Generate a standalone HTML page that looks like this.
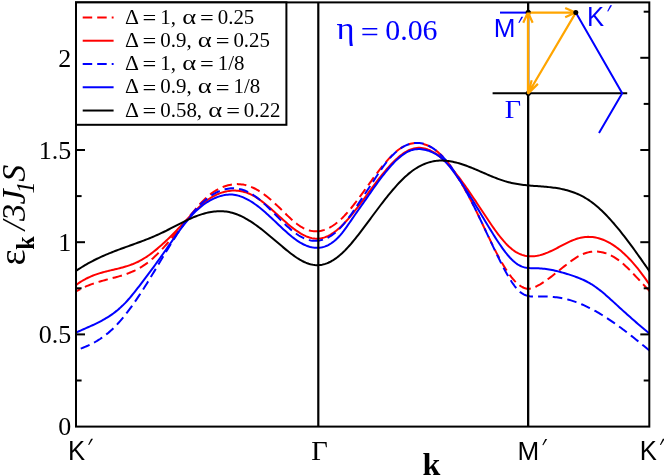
<!DOCTYPE html>
<html><head><meta charset="utf-8"><title>plot</title>
<style>
html,body{margin:0;padding:0;background:#fff;}
svg{display:block;will-change:transform;}
text{font-family:"Liberation Serif",serif;}
.sans{font-family:"Liberation Sans",sans-serif;}
</style></head><body>
<svg width="664" height="476" viewBox="0 0 664 476">
<rect x="0" y="0" width="664" height="476" fill="#fff"/>
<defs><clipPath id="cp"><rect x="76.00" y="2.40" width="573.30" height="424.20"/></clipPath></defs>
<g clip-path="url(#cp)" fill="none" stroke-width="2" stroke-linejoin="round">
<path d="M76.00 291.46 L77.51 290.60 L79.01 289.77 L80.52 288.98 L82.02 288.23 L83.53 287.52 L85.03 286.83 L86.54 286.19 L88.04 285.57 L89.55 284.97 L91.06 284.41 L92.56 283.87 L94.07 283.35 L95.57 282.85 L97.08 282.37 L98.58 281.91 L100.09 281.47 L101.60 281.03 L103.10 280.61 L104.61 280.20 L106.11 279.80 L107.62 279.40 L109.12 279.00 L110.63 278.61 L112.13 278.22 L113.64 277.82 L115.15 277.42 L116.65 277.01 L118.16 276.59 L119.66 276.15 L121.17 275.70 L122.67 275.24 L124.18 274.75 L125.68 274.24 L127.19 273.70 L128.70 273.14 L130.20 272.55 L131.71 271.92 L133.21 271.26 L134.72 270.56 L136.22 269.82 L137.73 269.04 L139.23 268.22 L140.74 267.34 L142.25 266.42 L143.75 265.44 L145.26 264.41 L146.76 263.33 L148.27 262.18 L149.77 260.97 L151.28 259.71 L152.79 258.38 L154.29 257.00 L155.80 255.58 L157.30 254.10 L158.81 252.59 L160.31 251.03 L161.82 249.44 L163.32 247.82 L164.83 246.17 L166.34 244.48 L167.84 242.77 L169.35 241.04 L170.85 239.28 L172.36 237.50 L173.86 235.71 L175.37 233.89 L176.87 232.07 L178.38 230.23 L179.89 228.38 L181.39 226.52 L182.90 224.66 L184.40 222.79 L185.91 220.92 L187.41 219.05 L188.92 217.19 L190.42 215.33 L191.93 213.48 L193.44 211.66 L194.94 209.86 L196.45 208.09 L197.95 206.36 L199.46 204.67 L200.96 203.03 L202.47 201.44 L203.98 199.92 L205.48 198.46 L206.99 197.08 L208.49 195.77 L210.00 194.55 L211.50 193.40 L213.01 192.33 L214.51 191.33 L216.02 190.40 L217.53 189.54 L219.03 188.75 L220.54 188.02 L222.04 187.35 L223.55 186.75 L225.05 186.20 L226.56 185.72 L228.06 185.30 L229.57 184.94 L231.08 184.65 L232.58 184.42 L234.09 184.25 L235.59 184.15 L237.10 184.11 L238.60 184.14 L240.11 184.23 L241.61 184.38 L243.12 184.60 L244.63 184.89 L246.13 185.24 L247.64 185.66 L249.14 186.14 L250.65 186.69 L252.15 187.31 L253.66 187.99 L255.17 188.74 L256.67 189.56 L258.18 190.43 L259.68 191.36 L261.19 192.34 L262.69 193.38 L264.20 194.47 L265.70 195.61 L267.21 196.79 L268.72 198.01 L270.22 199.28 L271.73 200.58 L273.23 201.91 L274.74 203.28 L276.24 204.68 L277.75 206.11 L279.25 207.56 L280.76 209.02 L282.27 210.50 L283.77 211.98 L285.28 213.46 L286.78 214.92 L288.29 216.36 L289.79 217.78 L291.30 219.16 L292.80 220.50 L294.31 221.79 L295.82 223.02 L297.32 224.19 L298.83 225.28 L300.33 226.30 L301.84 227.23 L303.34 228.06 L304.85 228.80 L306.36 229.44 L307.86 229.99 L309.37 230.44 L310.87 230.80 L312.38 231.06 L313.88 231.23 L315.39 231.31 L316.89 231.29 L318.40 231.19" stroke="#f00" stroke-dasharray="9.600 4.983" stroke-dashoffset="4.60"/>
<path d="M528.20 288.79 L526.69 288.65 L525.18 288.31 L523.67 287.76 L522.16 287.02 L520.65 286.10 L519.14 285.02 L517.63 283.77 L516.13 282.37 L514.62 280.83 L513.11 279.14 L511.60 277.31 L510.09 275.36 L508.58 273.27 L507.07 271.08 L505.56 268.76 L504.05 266.35 L502.54 263.83 L501.03 261.21 L499.52 258.51 L498.01 255.72 L496.50 252.86 L494.99 249.93 L493.48 246.93 L491.98 243.89 L490.47 240.80 L488.96 237.68 L487.45 234.52 L485.94 231.35 L484.43 228.17 L482.92 224.98 L481.41 221.80 L479.90 218.62 L478.39 215.47 L476.88 212.35 L475.37 209.26 L473.86 206.21 L472.35 203.22 L470.84 200.29 L469.34 197.43 L467.83 194.63 L466.32 191.90 L464.81 189.22 L463.30 186.59 L461.79 184.00 L460.28 181.46 L458.77 178.94 L457.26 176.45 L455.75 173.99 L454.24 171.58 L452.73 169.24 L451.22 167.00 L449.71 164.87 L448.20 162.87 L446.69 160.98 L445.19 159.21 L443.68 157.54 L442.17 155.98 L440.66 154.51 L439.15 153.14 L437.64 151.85 L436.13 150.65 L434.62 149.54 L433.11 148.51 L431.60 147.57 L430.09 146.71 L428.58 145.95 L427.07 145.27 L425.56 144.68 L424.05 144.18 L422.55 143.76 L421.04 143.44 L419.53 143.21 L418.02 143.07 L416.51 143.03 L415.00 143.07 L413.49 143.21 L411.98 143.44 L410.47 143.76 L408.96 144.18 L407.45 144.70 L405.94 145.31 L404.43 146.02 L402.92 146.82 L401.41 147.72 L399.91 148.72 L398.40 149.81 L396.89 151.00 L395.38 152.28 L393.87 153.64 L392.36 155.08 L390.85 156.59 L389.34 158.17 L387.83 159.82 L386.32 161.54 L384.81 163.30 L383.30 165.13 L381.79 166.99 L380.28 168.91 L378.77 170.86 L377.26 172.84 L375.76 174.86 L374.25 176.90 L372.74 178.96 L371.23 181.04 L369.72 183.13 L368.21 185.22 L366.70 187.32 L365.19 189.42 L363.68 191.52 L362.17 193.60 L360.66 195.67 L359.15 197.71 L357.64 199.74 L356.13 201.73 L354.62 203.69 L353.12 205.62 L351.61 207.50 L350.10 209.34 L348.59 211.13 L347.08 212.86 L345.57 214.53 L344.06 216.14 L342.55 217.68 L341.04 219.14 L339.53 220.53 L338.02 221.84 L336.51 223.07 L335.00 224.21 L333.49 225.27 L331.98 226.25 L330.47 227.15 L328.97 227.96 L327.46 228.68 L325.95 229.32 L324.44 229.87 L322.93 230.33 L321.42 230.71 L319.91 230.99 L318.40 231.19" stroke="#f00" stroke-dasharray="9.600 4.946"/>
<path d="M649.70 291.20 L648.20 289.66 L646.70 288.10 L645.20 286.51 L643.70 284.90 L642.20 283.29 L640.70 281.67 L639.20 280.04 L637.70 278.42 L636.20 276.81 L634.70 275.21 L633.20 273.63 L631.70 272.08 L630.20 270.55 L628.70 269.05 L627.20 267.59 L625.70 266.17 L624.20 264.80 L622.70 263.49 L621.20 262.23 L619.70 261.03 L618.20 259.89 L616.70 258.83 L615.20 257.84 L613.70 256.92 L612.20 256.08 L610.70 255.30 L609.20 254.60 L607.70 253.97 L606.20 253.41 L604.70 252.92 L603.20 252.50 L601.70 252.16 L600.20 251.89 L598.70 251.70 L597.20 251.57 L595.70 251.52 L594.20 251.55 L592.70 251.65 L591.20 251.82 L589.70 252.06 L588.20 252.38 L586.70 252.77 L585.20 253.24 L583.70 253.79 L582.20 254.40 L580.70 255.10 L579.20 255.86 L577.70 256.70 L576.20 257.60 L574.70 258.56 L573.20 259.57 L571.70 260.62 L570.20 261.72 L568.70 262.84 L567.20 264.00 L565.70 265.18 L564.20 266.37 L562.70 267.58 L561.20 268.79 L559.70 270.00 L558.20 271.20 L556.70 272.40 L555.20 273.59 L553.70 274.77 L552.20 275.94 L550.70 277.08 L549.20 278.20 L547.70 279.30 L546.20 280.37 L544.70 281.40 L543.20 282.40 L541.70 283.36 L540.20 284.28 L538.70 285.15 L537.20 285.98 L535.70 286.75 L534.20 287.43 L532.70 288.00 L531.20 288.44 L529.70 288.71 L528.20 288.79" stroke="#f00" stroke-dasharray="9.600 4.880"/>
<path d="M76.00 285.11 L77.50 284.00 L79.00 282.94 L80.51 281.94 L82.01 281.00 L83.51 280.11 L85.01 279.27 L86.51 278.48 L88.01 277.74 L89.52 277.04 L91.02 276.38 L92.52 275.76 L94.02 275.17 L95.52 274.62 L97.03 274.10 L98.53 273.61 L100.03 273.14 L101.53 272.70 L103.03 272.28 L104.53 271.88 L106.04 271.49 L107.54 271.11 L109.04 270.75 L110.54 270.39 L112.04 270.03 L113.55 269.68 L115.05 269.33 L116.55 268.97 L118.05 268.61 L119.55 268.23 L121.05 267.84 L122.56 267.44 L124.06 267.02 L125.56 266.58 L127.06 266.12 L128.56 265.63 L130.07 265.11 L131.57 264.56 L133.07 263.98 L134.57 263.35 L136.07 262.69 L137.58 261.99 L139.08 261.24 L140.58 260.44 L142.08 259.59 L143.58 258.70 L145.08 257.77 L146.59 256.79 L148.09 255.77 L149.59 254.71 L151.09 253.62 L152.59 252.48 L154.10 251.31 L155.60 250.11 L157.10 248.87 L158.60 247.60 L160.10 246.30 L161.60 244.97 L163.11 243.61 L164.61 242.23 L166.11 240.82 L167.61 239.39 L169.11 237.93 L170.62 236.46 L172.12 234.96 L173.62 233.45 L175.12 231.92 L176.62 230.37 L178.12 228.81 L179.63 227.24 L181.13 225.65 L182.63 224.06 L184.13 222.46 L185.63 220.85 L187.14 219.24 L188.64 217.64 L190.14 216.05 L191.64 214.48 L193.14 212.92 L194.64 211.39 L196.15 209.89 L197.65 208.43 L199.15 207.00 L200.65 205.61 L202.15 204.28 L203.66 203.00 L205.16 201.77 L206.66 200.61 L208.16 199.52 L209.66 198.49 L211.16 197.54 L212.67 196.65 L214.17 195.83 L215.67 195.07 L217.17 194.38 L218.67 193.74 L220.18 193.16 L221.68 192.64 L223.18 192.18 L224.68 191.77 L226.18 191.42 L227.69 191.13 L229.19 190.90 L230.69 190.72 L232.19 190.61 L233.69 190.56 L235.19 190.57 L236.70 190.64 L238.20 190.77 L239.70 190.97 L241.20 191.22 L242.70 191.55 L244.21 191.93 L245.71 192.39 L247.21 192.90 L248.71 193.49 L250.21 194.14 L251.71 194.85 L253.22 195.64 L254.72 196.49 L256.22 197.40 L257.72 198.38 L259.22 199.41 L260.73 200.48 L262.23 201.61 L263.73 202.78 L265.23 203.98 L266.73 205.22 L268.23 206.49 L269.74 207.79 L271.24 209.11 L272.74 210.45 L274.24 211.80 L275.74 213.16 L277.25 214.52 L278.75 215.89 L280.25 217.25 L281.75 218.61 L283.25 219.96 L284.75 221.29 L286.26 222.61 L287.76 223.90 L289.26 225.16 L290.76 226.40 L292.26 227.60 L293.77 228.75 L295.27 229.87 L296.77 230.94 L298.27 231.95 L299.77 232.92 L301.27 233.82 L302.78 234.65 L304.28 235.42 L305.78 236.12 L307.28 236.75 L308.78 237.29 L310.29 237.75 L311.79 238.13 L313.29 238.42 L314.79 238.61 L316.29 238.71 L317.80 238.70 L319.30 238.60 L320.80 238.39 L322.30 238.07 L323.80 237.66 L325.30 237.15 L326.81 236.54 L328.31 235.85 L329.81 235.06 L331.31 234.18 L332.81 233.21 L334.32 232.17 L335.82 231.03 L337.32 229.82 L338.82 228.54 L340.32 227.17 L341.82 225.74 L343.33 224.23 L344.83 222.66 L346.33 221.03 L347.83 219.35 L349.33 217.61 L350.84 215.83 L352.34 214.00 L353.84 212.13 L355.34 210.23 L356.84 208.29 L358.34 206.33 L359.85 204.35 L361.35 202.34 L362.85 200.32 L364.35 198.30 L365.85 196.26 L367.36 194.22 L368.86 192.18 L370.36 190.15 L371.86 188.12 L373.36 186.10 L374.86 184.10 L376.37 182.12 L377.87 180.15 L379.37 178.22 L380.87 176.31 L382.37 174.43 L383.88 172.58 L385.38 170.78 L386.88 169.02 L388.38 167.30 L389.88 165.63 L391.38 164.01 L392.89 162.45 L394.39 160.95 L395.89 159.52 L397.39 158.15 L398.89 156.85 L400.40 155.62 L401.90 154.47 L403.40 153.40 L404.90 152.42 L406.40 151.52 L407.90 150.71 L409.41 150.00 L410.91 149.39 L412.41 148.87 L413.91 148.46 L415.41 148.16 L416.92 147.96 L418.42 147.86 L419.92 147.86 L421.42 147.96 L422.92 148.16 L424.43 148.45 L425.93 148.83 L427.43 149.31 L428.93 149.88 L430.43 150.53 L431.93 151.28 L433.44 152.10 L434.94 153.02 L436.44 154.01 L437.94 155.09 L439.44 156.25 L440.95 157.48 L442.45 158.79 L443.95 160.17 L445.45 161.63 L446.95 163.16 L448.45 164.76 L449.96 166.41 L451.46 168.13 L452.96 169.90 L454.46 171.73 L455.96 173.60 L457.47 175.51 L458.97 177.47 L460.47 179.46 L461.97 181.49 L463.47 183.55 L464.97 185.64 L466.48 187.76 L467.98 189.90 L469.48 192.07 L470.98 194.26 L472.48 196.46 L473.99 198.69 L475.49 200.93 L476.99 203.18 L478.49 205.44 L479.99 207.71 L481.49 209.98 L483.00 212.26 L484.50 214.54 L486.00 216.81 L487.50 219.06 L489.00 221.30 L490.51 223.52 L492.01 225.70 L493.51 227.85 L495.01 229.96 L496.51 232.03 L498.01 234.04 L499.52 235.99 L501.02 237.88 L502.52 239.70 L504.02 241.45 L505.52 243.11 L507.03 244.69 L508.53 246.18 L510.03 247.57 L511.53 248.85 L513.03 250.03 L514.54 251.09 L516.04 252.05 L517.54 252.90 L519.04 253.65 L520.54 254.31 L522.04 254.86 L523.55 255.32 L525.05 255.70 L526.55 255.98 L528.05 256.18 L529.55 256.31 L531.06 256.35 L532.56 256.32 L534.06 256.22 L535.56 256.05 L537.06 255.81 L538.56 255.51 L540.07 255.15 L541.57 254.74 L543.07 254.27 L544.57 253.75 L546.07 253.18 L547.58 252.57 L549.08 251.92 L550.58 251.24 L552.08 250.53 L553.58 249.80 L555.08 249.04 L556.59 248.27 L558.09 247.49 L559.59 246.71 L561.09 245.92 L562.59 245.14 L564.10 244.37 L565.60 243.61 L567.10 242.87 L568.60 242.15 L570.10 241.45 L571.60 240.79 L573.11 240.17 L574.61 239.59 L576.11 239.05 L577.61 238.56 L579.11 238.13 L580.62 237.76 L582.12 237.46 L583.62 237.22 L585.12 237.04 L586.62 236.93 L588.12 236.87 L589.63 236.89 L591.13 236.96 L592.63 237.10 L594.13 237.30 L595.63 237.56 L597.14 237.89 L598.64 238.27 L600.14 238.71 L601.64 239.22 L603.14 239.78 L604.65 240.41 L606.15 241.09 L607.65 241.83 L609.15 242.63 L610.65 243.49 L612.15 244.40 L613.66 245.38 L615.16 246.41 L616.66 247.49 L618.16 248.64 L619.66 249.84 L621.17 251.09 L622.67 252.40 L624.17 253.77 L625.67 255.19 L627.17 256.66 L628.67 258.19 L630.18 259.77 L631.68 261.40 L633.18 263.09 L634.68 264.83 L636.18 266.62 L637.69 268.46 L639.19 270.36 L640.69 272.30 L642.19 274.30 L643.69 276.34 L645.19 278.44 L646.70 280.59 L648.20 282.78 L649.70 285.03" stroke="#f00"/>
<path d="M76.00 350.28 L77.51 349.77 L79.01 349.25 L80.52 348.70 L82.02 348.14 L83.53 347.55 L85.03 346.93 L86.54 346.29 L88.04 345.62 L89.55 344.91 L91.06 344.18 L92.56 343.41 L94.07 342.60 L95.57 341.75 L97.08 340.87 L98.58 339.94 L100.09 338.97 L101.60 337.95 L103.10 336.89 L104.61 335.78 L106.11 334.61 L107.62 333.40 L109.12 332.13 L110.63 330.80 L112.13 329.42 L113.64 327.98 L115.15 326.47 L116.65 324.91 L118.16 323.29 L119.66 321.61 L121.17 319.88 L122.67 318.09 L124.18 316.25 L125.68 314.36 L127.19 312.43 L128.70 310.44 L130.20 308.42 L131.71 306.35 L133.21 304.24 L134.72 302.09 L136.22 299.90 L137.73 297.67 L139.23 295.42 L140.74 293.12 L142.25 290.80 L143.75 288.45 L145.26 286.07 L146.76 283.67 L148.27 281.24 L149.77 278.79 L151.28 276.33 L152.79 273.85 L154.29 271.36 L155.80 268.85 L157.30 266.35 L158.81 263.84 L160.31 261.33 L161.82 258.82 L163.32 256.32 L164.83 253.83 L166.34 251.35 L167.84 248.88 L169.35 246.44 L170.85 244.01 L172.36 241.60 L173.86 239.23 L175.37 236.88 L176.87 234.56 L178.38 232.28 L179.89 230.04 L181.39 227.84 L182.90 225.68 L184.40 223.57 L185.91 221.51 L187.41 219.50 L188.92 217.55 L190.42 215.65 L191.93 213.81 L193.44 212.03 L194.94 210.31 L196.45 208.64 L197.95 207.04 L199.46 205.50 L200.96 204.02 L202.47 202.60 L203.98 201.24 L205.48 199.95 L206.99 198.72 L208.49 197.56 L210.00 196.46 L211.50 195.43 L213.01 194.46 L214.51 193.57 L216.02 192.74 L217.53 191.98 L219.03 191.29 L220.54 190.67 L222.04 190.12 L223.55 189.64 L225.05 189.24 L226.56 188.90 L228.06 188.64 L229.57 188.45 L231.08 188.33 L232.58 188.28 L234.09 188.31 L235.59 188.40 L237.10 188.57 L238.60 188.81 L240.11 189.13 L241.61 189.51 L243.12 189.97 L244.63 190.50 L246.13 191.11 L247.64 191.79 L249.14 192.54 L250.65 193.36 L252.15 194.26 L253.66 195.23 L255.17 196.27 L256.67 197.38 L258.18 198.55 L259.68 199.77 L261.19 201.05 L262.69 202.37 L264.20 203.73 L265.70 205.13 L267.21 206.57 L268.72 208.03 L270.22 209.51 L271.73 211.01 L273.23 212.52 L274.74 214.05 L276.24 215.57 L277.75 217.09 L279.25 218.61 L280.76 220.11 L282.27 221.60 L283.77 223.06 L285.28 224.50 L286.78 225.91 L288.29 227.28 L289.79 228.62 L291.30 229.90 L292.80 231.14 L294.31 232.32 L295.82 233.44 L297.32 234.50 L298.83 235.49 L300.33 236.40 L301.84 237.23 L303.34 237.98 L304.85 238.65 L306.36 239.22 L307.86 239.71 L309.37 240.11 L310.87 240.42 L312.38 240.64 L313.88 240.77 L315.39 240.81 L316.89 240.76 L318.40 240.62" stroke="#00f" stroke-dasharray="9.600 5.017" stroke-dashoffset="9.60"/>
<path d="M528.20 296.01 L526.69 295.61 L525.18 295.06 L523.67 294.35 L522.16 293.47 L520.65 292.39 L519.14 291.11 L517.63 289.61 L516.13 287.91 L514.62 286.02 L513.11 283.96 L511.60 281.74 L510.09 279.37 L508.58 276.87 L507.07 274.25 L505.56 271.52 L504.05 268.70 L502.54 265.80 L501.03 262.83 L499.52 259.81 L498.01 256.74 L496.50 253.64 L494.99 250.51 L493.48 247.36 L491.98 244.18 L490.47 240.98 L488.96 237.78 L487.45 234.57 L485.94 231.35 L484.43 228.14 L482.92 224.94 L481.41 221.75 L479.90 218.58 L478.39 215.43 L476.88 212.31 L475.37 209.22 L473.86 206.17 L472.35 203.16 L470.84 200.20 L469.34 197.29 L467.83 194.43 L466.32 191.63 L464.81 188.89 L463.30 186.21 L461.79 183.59 L460.28 181.04 L458.77 178.56 L457.26 176.14 L455.75 173.79 L454.24 171.52 L452.73 169.32 L451.22 167.20 L449.71 165.15 L448.20 163.19 L446.69 161.30 L445.19 159.51 L443.68 157.79 L442.17 156.17 L440.66 154.63 L439.15 153.19 L437.64 151.84 L436.13 150.59 L434.62 149.43 L433.11 148.37 L431.60 147.40 L430.09 146.53 L428.58 145.75 L427.07 145.07 L425.56 144.48 L424.05 143.98 L422.55 143.58 L421.04 143.28 L419.53 143.07 L418.02 142.95 L416.51 142.93 L415.00 143.01 L413.49 143.18 L411.98 143.44 L410.47 143.79 L408.96 144.24 L407.45 144.79 L405.94 145.43 L404.43 146.16 L402.92 146.98 L401.41 147.90 L399.91 148.92 L398.40 150.03 L396.89 151.23 L395.38 152.53 L393.87 153.92 L392.36 155.42 L390.85 157.01 L389.34 158.70 L387.83 160.50 L386.32 162.39 L384.81 164.38 L383.30 166.44 L381.79 168.58 L380.28 170.77 L378.77 173.00 L377.26 175.27 L375.76 177.55 L374.25 179.84 L372.74 182.13 L371.23 184.42 L369.72 186.71 L368.21 189.00 L366.70 191.28 L365.19 193.57 L363.68 195.85 L362.17 198.13 L360.66 200.40 L359.15 202.67 L357.64 204.93 L356.13 207.17 L354.62 209.39 L353.12 211.58 L351.61 213.72 L350.10 215.83 L348.59 217.88 L347.08 219.87 L345.57 221.79 L344.06 223.65 L342.55 225.41 L341.04 227.10 L339.53 228.68 L338.02 230.17 L336.51 231.55 L335.00 232.84 L333.49 234.03 L331.98 235.12 L330.47 236.12 L328.97 237.01 L327.46 237.81 L325.95 238.52 L324.44 239.13 L322.93 239.64 L321.42 240.06 L319.91 240.39 L318.40 240.62" stroke="#00f" stroke-dasharray="9.600 4.943"/>
<path d="M649.70 350.78 L648.20 349.53 L646.70 348.28 L645.20 347.04 L643.70 345.80 L642.20 344.57 L640.70 343.34 L639.20 342.12 L637.70 340.90 L636.20 339.69 L634.70 338.49 L633.20 337.30 L631.70 336.11 L630.20 334.93 L628.70 333.76 L627.20 332.60 L625.70 331.45 L624.20 330.31 L622.70 329.18 L621.20 328.06 L619.70 326.96 L618.20 325.86 L616.70 324.78 L615.20 323.71 L613.70 322.66 L612.20 321.62 L610.70 320.59 L609.20 319.58 L607.70 318.58 L606.20 317.60 L604.70 316.64 L603.20 315.70 L601.70 314.77 L600.20 313.86 L598.70 312.97 L597.20 312.09 L595.70 311.24 L594.20 310.41 L592.70 309.59 L591.20 308.80 L589.70 308.03 L588.20 307.28 L586.70 306.55 L585.20 305.85 L583.70 305.17 L582.20 304.51 L580.70 303.88 L579.20 303.27 L577.70 302.68 L576.20 302.12 L574.70 301.59 L573.20 301.09 L571.70 300.61 L570.20 300.16 L568.70 299.73 L567.20 299.34 L565.70 298.97 L564.20 298.63 L562.70 298.32 L561.20 298.04 L559.70 297.78 L558.20 297.54 L556.70 297.34 L555.20 297.15 L553.70 297.00 L552.20 296.86 L550.70 296.75 L549.20 296.66 L547.70 296.59 L546.20 296.54 L544.70 296.51 L543.20 296.50 L541.70 296.50 L540.20 296.51 L538.70 296.52 L537.20 296.55 L535.70 296.58 L534.20 296.59 L532.70 296.56 L531.20 296.46 L529.70 296.29 L528.20 296.01" stroke="#00f" stroke-dasharray="9.600 5.118"/>
<path d="M76.00 332.67 L77.50 331.96 L79.00 331.27 L80.51 330.59 L82.01 329.92 L83.51 329.25 L85.01 328.59 L86.51 327.92 L88.01 327.26 L89.52 326.59 L91.02 325.92 L92.52 325.23 L94.02 324.54 L95.52 323.82 L97.03 323.10 L98.53 322.35 L100.03 321.58 L101.53 320.78 L103.03 319.96 L104.53 319.11 L106.04 318.22 L107.54 317.30 L109.04 316.35 L110.54 315.35 L112.04 314.31 L113.55 313.22 L115.05 312.08 L116.55 310.90 L118.05 309.66 L119.55 308.37 L121.05 307.01 L122.56 305.60 L124.06 304.12 L125.56 302.58 L127.06 300.97 L128.56 299.29 L130.07 297.55 L131.57 295.76 L133.07 293.92 L134.57 292.05 L136.07 290.14 L137.58 288.21 L139.08 286.27 L140.58 284.31 L142.08 282.34 L143.58 280.37 L145.08 278.39 L146.59 276.41 L148.09 274.41 L149.59 272.40 L151.09 270.38 L152.59 268.35 L154.10 266.31 L155.60 264.25 L157.10 262.18 L158.60 260.10 L160.10 258.00 L161.60 255.88 L163.11 253.75 L164.61 251.61 L166.11 249.46 L167.61 247.30 L169.11 245.15 L170.62 243.00 L172.12 240.86 L173.62 238.73 L175.12 236.62 L176.62 234.52 L178.12 232.45 L179.63 230.41 L181.13 228.40 L182.63 226.43 L184.13 224.49 L185.63 222.60 L187.14 220.75 L188.64 218.96 L190.14 217.22 L191.64 215.54 L193.14 213.92 L194.64 212.37 L196.15 210.89 L197.65 209.49 L199.15 208.15 L200.65 206.88 L202.15 205.68 L203.66 204.54 L205.16 203.48 L206.66 202.47 L208.16 201.53 L209.66 200.65 L211.16 199.84 L212.67 199.08 L214.17 198.38 L215.67 197.74 L217.17 197.15 L218.67 196.62 L220.18 196.14 L221.68 195.72 L223.18 195.36 L224.68 195.05 L226.18 194.81 L227.69 194.64 L229.19 194.54 L230.69 194.53 L232.19 194.59 L233.69 194.74 L235.19 194.96 L236.70 195.26 L238.20 195.64 L239.70 196.08 L241.20 196.60 L242.70 197.18 L244.21 197.82 L245.71 198.53 L247.21 199.30 L248.71 200.12 L250.21 201.00 L251.71 201.93 L253.22 202.92 L254.72 203.95 L256.22 205.02 L257.72 206.15 L259.22 207.31 L260.73 208.51 L262.23 209.75 L263.73 211.02 L265.23 212.33 L266.73 213.66 L268.23 215.02 L269.74 216.41 L271.24 217.81 L272.74 219.22 L274.24 220.64 L275.74 222.07 L277.25 223.50 L278.75 224.93 L280.25 226.35 L281.75 227.75 L283.25 229.15 L284.75 230.52 L286.26 231.87 L287.76 233.19 L289.26 234.49 L290.76 235.74 L292.26 236.96 L293.77 238.13 L295.27 239.25 L296.77 240.32 L298.27 241.33 L299.77 242.29 L301.27 243.18 L302.78 244.00 L304.28 244.75 L305.78 245.42 L307.28 246.02 L308.78 246.53 L310.29 246.97 L311.79 247.32 L313.29 247.59 L314.79 247.77 L316.29 247.86 L317.80 247.85 L319.30 247.75 L320.80 247.56 L322.30 247.26 L323.80 246.86 L325.30 246.36 L326.81 245.75 L328.31 245.03 L329.81 244.20 L331.31 243.25 L332.81 242.19 L334.32 241.02 L335.82 239.72 L337.32 238.30 L338.82 236.75 L340.32 235.08 L341.82 233.28 L343.33 231.37 L344.83 229.37 L346.33 227.30 L347.83 225.18 L349.33 223.01 L350.84 220.82 L352.34 218.63 L353.84 216.45 L355.34 214.30 L356.84 212.17 L358.34 210.04 L359.85 207.92 L361.35 205.78 L362.85 203.63 L364.35 201.47 L365.85 199.31 L367.36 197.14 L368.86 194.98 L370.36 192.82 L371.86 190.67 L373.36 188.54 L374.86 186.42 L376.37 184.32 L377.87 182.25 L379.37 180.21 L380.87 178.19 L382.37 176.22 L383.88 174.28 L385.38 172.39 L386.88 170.54 L388.38 168.75 L389.88 167.00 L391.38 165.32 L392.89 163.70 L394.39 162.14 L395.89 160.66 L397.39 159.24 L398.89 157.90 L400.40 156.65 L401.90 155.47 L403.40 154.39 L404.90 153.39 L406.40 152.49 L407.90 151.69 L409.41 150.99 L410.91 150.40 L412.41 149.92 L413.91 149.55 L415.41 149.29 L416.92 149.14 L418.42 149.08 L419.92 149.12 L421.42 149.24 L422.92 149.44 L424.43 149.71 L425.93 150.05 L427.43 150.45 L428.93 150.92 L430.43 151.47 L431.93 152.09 L433.44 152.79 L434.94 153.58 L436.44 154.46 L437.94 155.43 L439.44 156.49 L440.95 157.66 L442.45 158.94 L443.95 160.33 L445.45 161.83 L446.95 163.44 L448.45 165.16 L449.96 166.97 L451.46 168.87 L452.96 170.84 L454.46 172.87 L455.96 174.97 L457.47 177.10 L458.97 179.27 L460.47 181.47 L461.97 183.71 L463.47 185.97 L464.97 188.26 L466.48 190.57 L467.98 192.91 L469.48 195.28 L470.98 197.67 L472.48 200.07 L473.99 202.50 L475.49 204.95 L476.99 207.41 L478.49 209.89 L479.99 212.39 L481.49 214.89 L483.00 217.40 L484.50 219.92 L486.00 222.42 L487.50 224.92 L489.00 227.41 L490.51 229.88 L492.01 232.32 L493.51 234.73 L495.01 237.11 L496.51 239.45 L498.01 241.75 L499.52 244.00 L501.02 246.19 L502.52 248.33 L504.02 250.39 L505.52 252.36 L507.03 254.25 L508.53 256.04 L510.03 257.72 L511.53 259.29 L513.03 260.74 L514.54 262.06 L516.04 263.26 L517.54 264.31 L519.04 265.23 L520.54 265.99 L522.04 266.61 L523.55 267.10 L525.05 267.47 L526.55 267.74 L528.05 267.94 L529.55 268.06 L531.06 268.14 L532.56 268.17 L534.06 268.19 L535.56 268.21 L537.06 268.24 L538.56 268.29 L540.07 268.38 L541.57 268.49 L543.07 268.63 L544.57 268.80 L546.07 269.00 L547.58 269.22 L549.08 269.47 L550.58 269.73 L552.08 270.03 L553.58 270.34 L555.08 270.67 L556.59 271.03 L558.09 271.40 L559.59 271.79 L561.09 272.19 L562.59 272.61 L564.10 273.04 L565.60 273.49 L567.10 273.95 L568.60 274.42 L570.10 274.90 L571.60 275.39 L573.11 275.90 L574.61 276.42 L576.11 276.95 L577.61 277.51 L579.11 278.10 L580.62 278.71 L582.12 279.35 L583.62 280.02 L585.12 280.74 L586.62 281.49 L588.12 282.28 L589.63 283.13 L591.13 284.02 L592.63 284.96 L594.13 285.95 L595.63 287.00 L597.14 288.08 L598.64 289.22 L600.14 290.39 L601.64 291.59 L603.14 292.83 L604.65 294.10 L606.15 295.39 L607.65 296.71 L609.15 298.04 L610.65 299.39 L612.15 300.75 L613.66 302.13 L615.16 303.50 L616.66 304.88 L618.16 306.26 L619.66 307.64 L621.17 309.01 L622.67 310.37 L624.17 311.73 L625.67 313.08 L627.17 314.43 L628.67 315.77 L630.18 317.11 L631.68 318.43 L633.18 319.75 L634.68 321.07 L636.18 322.37 L637.69 323.67 L639.19 324.95 L640.69 326.23 L642.19 327.50 L643.69 328.77 L645.19 330.02 L646.70 331.26 L648.20 332.49 L649.70 333.71" stroke="#00f"/>
<path d="M76.00 270.97 L77.50 269.95 L79.00 268.94 L80.51 267.97 L82.01 267.02 L83.51 266.09 L85.01 265.19 L86.51 264.32 L88.01 263.46 L89.52 262.63 L91.02 261.82 L92.52 261.03 L94.02 260.25 L95.52 259.50 L97.03 258.77 L98.53 258.05 L100.03 257.34 L101.53 256.66 L103.03 255.99 L104.53 255.33 L106.04 254.68 L107.54 254.05 L109.04 253.43 L110.54 252.82 L112.04 252.22 L113.55 251.63 L115.05 251.05 L116.55 250.48 L118.05 249.91 L119.55 249.35 L121.05 248.79 L122.56 248.24 L124.06 247.69 L125.56 247.15 L127.06 246.61 L128.56 246.07 L130.07 245.53 L131.57 244.99 L133.07 244.45 L134.57 243.91 L136.07 243.36 L137.58 242.81 L139.08 242.26 L140.58 241.70 L142.08 241.14 L143.58 240.57 L145.08 240.00 L146.59 239.41 L148.09 238.82 L149.59 238.22 L151.09 237.61 L152.59 236.99 L154.10 236.35 L155.60 235.70 L157.10 235.04 L158.60 234.37 L160.10 233.68 L161.60 232.97 L163.11 232.25 L164.61 231.52 L166.11 230.77 L167.61 230.01 L169.11 229.25 L170.62 228.47 L172.12 227.70 L173.62 226.92 L175.12 226.14 L176.62 225.36 L178.12 224.58 L179.63 223.81 L181.13 223.05 L182.63 222.29 L184.13 221.55 L185.63 220.82 L187.14 220.10 L188.64 219.40 L190.14 218.72 L191.64 218.05 L193.14 217.41 L194.64 216.79 L196.15 216.20 L197.65 215.64 L199.15 215.10 L200.65 214.59 L202.15 214.12 L203.66 213.67 L205.16 213.26 L206.66 212.88 L208.16 212.54 L209.66 212.23 L211.16 211.96 L212.67 211.73 L214.17 211.54 L215.67 211.39 L217.17 211.28 L218.67 211.22 L220.18 211.20 L221.68 211.23 L223.18 211.30 L224.68 211.42 L226.18 211.59 L227.69 211.82 L229.19 212.09 L230.69 212.41 L232.19 212.79 L233.69 213.23 L235.19 213.72 L236.70 214.26 L238.20 214.85 L239.70 215.49 L241.20 216.18 L242.70 216.92 L244.21 217.70 L245.71 218.52 L247.21 219.38 L248.71 220.29 L250.21 221.22 L251.71 222.19 L253.22 223.20 L254.72 224.23 L256.22 225.30 L257.72 226.39 L259.22 227.51 L260.73 228.65 L262.23 229.82 L263.73 231.00 L265.23 232.20 L266.73 233.42 L268.23 234.66 L269.74 235.90 L271.24 237.16 L272.74 238.43 L274.24 239.70 L275.74 240.98 L277.25 242.27 L278.75 243.55 L280.25 244.84 L281.75 246.11 L283.25 247.38 L284.75 248.64 L286.26 249.87 L287.76 251.09 L289.26 252.28 L290.76 253.44 L292.26 254.57 L293.77 255.67 L295.27 256.72 L296.77 257.73 L298.27 258.69 L299.77 259.60 L301.27 260.46 L302.78 261.26 L304.28 261.99 L305.78 262.66 L307.28 263.26 L308.78 263.78 L310.29 264.23 L311.79 264.60 L313.29 264.87 L314.79 265.07 L316.29 265.16 L317.80 265.17 L319.30 265.09 L320.80 264.91 L322.30 264.65 L323.80 264.29 L325.30 263.85 L326.81 263.33 L328.31 262.72 L329.81 262.02 L331.31 261.24 L332.81 260.37 L334.32 259.42 L335.82 258.40 L337.32 257.29 L338.82 256.10 L340.32 254.83 L341.82 253.49 L343.33 252.07 L344.83 250.59 L346.33 249.04 L347.83 247.42 L349.33 245.76 L350.84 244.04 L352.34 242.27 L353.84 240.46 L355.34 238.61 L356.84 236.72 L358.34 234.80 L359.85 232.85 L361.35 230.89 L362.85 228.90 L364.35 226.89 L365.85 224.88 L367.36 222.86 L368.86 220.83 L370.36 218.81 L371.86 216.78 L373.36 214.76 L374.86 212.74 L376.37 210.73 L377.87 208.73 L379.37 206.74 L380.87 204.76 L382.37 202.80 L383.88 200.87 L385.38 198.95 L386.88 197.06 L388.38 195.19 L389.88 193.35 L391.38 191.54 L392.89 189.77 L394.39 188.03 L395.89 186.33 L397.39 184.67 L398.89 183.05 L400.40 181.48 L401.90 179.96 L403.40 178.48 L404.90 177.06 L406.40 175.69 L407.90 174.38 L409.41 173.13 L410.91 171.94 L412.41 170.81 L413.91 169.74 L415.41 168.74 L416.92 167.80 L418.42 166.92 L419.92 166.10 L421.42 165.34 L422.92 164.63 L424.43 163.99 L425.93 163.41 L427.43 162.88 L428.93 162.40 L430.43 161.99 L431.93 161.63 L433.44 161.32 L434.94 161.07 L436.44 160.87 L437.94 160.72 L439.44 160.62 L440.95 160.58 L442.45 160.58 L443.95 160.63 L445.45 160.73 L446.95 160.87 L448.45 161.05 L449.96 161.27 L451.46 161.52 L452.96 161.82 L454.46 162.15 L455.96 162.51 L457.47 162.90 L458.97 163.32 L460.47 163.77 L461.97 164.25 L463.47 164.75 L464.97 165.27 L466.48 165.81 L467.98 166.37 L469.48 166.95 L470.98 167.54 L472.48 168.15 L473.99 168.77 L475.49 169.39 L476.99 170.03 L478.49 170.67 L479.99 171.32 L481.49 171.97 L483.00 172.62 L484.50 173.28 L486.00 173.93 L487.50 174.57 L489.00 175.21 L490.51 175.84 L492.01 176.46 L493.51 177.08 L495.01 177.68 L496.51 178.26 L498.01 178.83 L499.52 179.38 L501.02 179.91 L502.52 180.42 L504.02 180.90 L505.52 181.36 L507.03 181.80 L508.53 182.20 L510.03 182.58 L511.53 182.93 L513.03 183.25 L514.54 183.55 L516.04 183.82 L517.54 184.08 L519.04 184.31 L520.54 184.52 L522.04 184.72 L523.55 184.91 L525.05 185.07 L526.55 185.23 L528.05 185.38 L529.55 185.51 L531.06 185.64 L532.56 185.76 L534.06 185.88 L535.56 185.99 L537.06 186.10 L538.56 186.21 L540.07 186.33 L541.57 186.44 L543.07 186.56 L544.57 186.69 L546.07 186.82 L547.58 186.96 L549.08 187.12 L550.58 187.28 L552.08 187.46 L553.58 187.65 L555.08 187.86 L556.59 188.09 L558.09 188.33 L559.59 188.60 L561.09 188.89 L562.59 189.20 L564.10 189.54 L565.60 189.91 L567.10 190.30 L568.60 190.73 L570.10 191.19 L571.60 191.68 L573.11 192.20 L574.61 192.76 L576.11 193.36 L577.61 194.00 L579.11 194.68 L580.62 195.40 L582.12 196.16 L583.62 196.97 L585.12 197.83 L586.62 198.74 L588.12 199.69 L589.63 200.70 L591.13 201.76 L592.63 202.87 L594.13 204.03 L595.63 205.25 L597.14 206.51 L598.64 207.82 L600.14 209.18 L601.64 210.58 L603.14 212.03 L604.65 213.52 L606.15 215.05 L607.65 216.62 L609.15 218.23 L610.65 219.88 L612.15 221.57 L613.66 223.28 L615.16 225.04 L616.66 226.82 L618.16 228.64 L619.66 230.48 L621.17 232.36 L622.67 234.26 L624.17 236.18 L625.67 238.13 L627.17 240.11 L628.67 242.10 L630.18 244.12 L631.68 246.15 L633.18 248.21 L634.68 250.28 L636.18 252.36 L637.69 254.46 L639.19 256.57 L640.69 258.70 L642.19 260.83 L643.69 262.97 L645.19 265.12 L646.70 267.28 L648.20 269.44 L649.70 271.61" stroke="#000"/>
</g>
<g stroke="#000" stroke-width="2" fill="none">
<rect x="76.00" y="2.40" width="573.30" height="424.20"/>
<line x1="318.30" y1="2.40" x2="318.30" y2="426.60" stroke-width="2.2"/>
<line x1="528.15" y1="2.40" x2="528.15" y2="426.60" stroke-width="2.3"/>
<line x1="76.00" y1="380.50" x2="81.60" y2="380.50"/>
<line x1="649.30" y1="380.50" x2="643.70" y2="380.50"/>
<line x1="76.00" y1="334.40" x2="85.00" y2="334.40"/>
<line x1="649.30" y1="334.40" x2="640.30" y2="334.40"/>
<line x1="76.00" y1="288.30" x2="81.60" y2="288.30"/>
<line x1="649.30" y1="288.30" x2="643.70" y2="288.30"/>
<line x1="76.00" y1="242.20" x2="85.00" y2="242.20"/>
<line x1="649.30" y1="242.20" x2="640.30" y2="242.20"/>
<line x1="76.00" y1="196.10" x2="81.60" y2="196.10"/>
<line x1="649.30" y1="196.10" x2="643.70" y2="196.10"/>
<line x1="76.00" y1="150.00" x2="85.00" y2="150.00"/>
<line x1="649.30" y1="150.00" x2="640.30" y2="150.00"/>
<line x1="76.00" y1="103.90" x2="81.60" y2="103.90"/>
<line x1="649.30" y1="103.90" x2="643.70" y2="103.90"/>
<line x1="76.00" y1="57.80" x2="85.00" y2="57.80"/>
<line x1="649.30" y1="57.80" x2="640.30" y2="57.80"/>
<line x1="76.00" y1="11.70" x2="81.60" y2="11.70"/>
<line x1="649.30" y1="11.70" x2="643.70" y2="11.70"/>
</g>
<g font-size="26" text-anchor="end" fill="#000">
<text x="71.3" y="435.40">0</text>
<text x="71.3" y="343.20">0.5</text>
<text x="71.3" y="251.00">1</text>
<text x="71.3" y="158.80">1.5</text>
<text x="71.3" y="66.60">2</text>
</g>
<text transform="translate(70.10,459.80) scale(0.95,1)" x="-2.21" y="0" font-size="27" class="sans">K</text>
<polygon points="91.10,438.80 93.00,438.80 89.10,445.00 88.10,444.80" fill="#000"/>
<text transform="translate(641.90,459.80) scale(0.95,1)" x="-2.21" y="0" font-size="27" class="sans">K</text>
<polygon points="662.90,438.80 664.80,438.80 660.90,445.00 659.90,444.80" fill="#000"/>
<text transform="translate(312.10,459.60) scale(1.08,1)" x="-0.76" y="0" font-size="26.5">&#915;</text>
<text transform="translate(519.60,459.80) scale(0.98,1)" x="-2.18" y="0" font-size="26.6" class="sans">M</text>
<polygon points="545.30,439.00 547.20,439.00 543.30,445.20 542.30,445.00" fill="#000"/>
<text transform="translate(423.40,474.60) scale(1,1)" x="-0.80" y="0" font-size="32" font-weight="bold">k</text>
<g transform="translate(25.2,264.9) rotate(-90)" fill="#000">
<text transform="translate(0.80,0.00) scale(1.04,1)" x="-1.42" y="0" font-size="36.89">&#949;</text>
<text transform="translate(15.70,8.80) scale(1,1)" x="-0.60" y="0" font-size="24.14" font-weight="bold">k</text>
<text transform="translate(33.00,0.00) scale(1,1)" x="1.56" y="0" font-size="34" font-style="italic">/</text>
<text transform="translate(43.90,0.00) scale(1,1)" x="0.05" y="0" font-size="34" font-style="italic">3</text>
<text transform="translate(61.00,0.00) scale(1,1)" x="-0.51" y="0" font-size="34" font-style="italic">J</text>
<text transform="translate(72.30,8.80) scale(1,1)" x="-0.86" y="0" font-size="24.14" font-style="italic">1</text>
<text transform="translate(83.60,0.00) scale(1,1)" x="-0.40" y="0" font-size="34" font-style="italic">S</text>
</g>
<text transform="translate(337.00,39.40) scale(1.1,1)" x="-0.49" y="0" font-size="31.5" fill="#00f">&#951;</text>
<text transform="translate(362.30,41.50) scale(1.07,1)" x="-1.49" y="0" font-size="30" fill="#00f">=</text>
<text transform="translate(386.40,39.70) scale(0.99,1)" x="-1.15" y="0" font-size="30.2" fill="#00f">0.06</text>
<rect x="76.00" y="2.40" width="210.40" height="122.40" fill="#fff" stroke="#000" stroke-width="2"/>
<line x1="82.7" y1="17.45" x2="113.6" y2="17.45" stroke="#f00" stroke-width="2" stroke-dasharray="9.5 5"/>
<text transform="translate(125.70,23.50) scale(1.03,1)" x="-0.80" y="0" font-size="21.112">&#916;</text>
<text transform="translate(143.70,24.70) scale(1.2,1)" x="-1.01" y="0" font-size="20.3">=</text>
<text transform="translate(162.14,23.50) scale(1,1)" x="-1.84" y="0" font-size="20.9">1,</text>
<text transform="translate(183.15,23.50) scale(1.24,1)" x="-0.82" y="0" font-size="21.518">&#945;</text>
<text transform="translate(201.25,24.70) scale(1.2,1)" x="-1.01" y="0" font-size="20.3">=</text>
<text transform="translate(218.55,23.50) scale(1,1)" x="-0.80" y="0" font-size="20.9">0.25</text>
<line x1="82.7" y1="40.72" x2="113.6" y2="40.72" stroke="#f00" stroke-width="2" />
<text transform="translate(125.70,46.77) scale(1.03,1)" x="-0.80" y="0" font-size="21.112">&#916;</text>
<text transform="translate(143.70,47.97) scale(1.2,1)" x="-1.01" y="0" font-size="20.3">=</text>
<text transform="translate(161.10,46.77) scale(1,1)" x="-0.80" y="0" font-size="20.9">0.9,</text>
<text transform="translate(198.83,46.77) scale(1.24,1)" x="-0.82" y="0" font-size="21.518">&#945;</text>
<text transform="translate(216.93,47.97) scale(1.2,1)" x="-1.01" y="0" font-size="20.3">=</text>
<text transform="translate(234.22,46.77) scale(1,1)" x="-0.80" y="0" font-size="20.9">0.25</text>
<line x1="82.7" y1="63.99" x2="113.6" y2="63.99" stroke="#00f" stroke-width="2" stroke-dasharray="9.5 5"/>
<text transform="translate(125.70,70.04) scale(1.03,1)" x="-0.80" y="0" font-size="21.112">&#916;</text>
<text transform="translate(143.70,71.24) scale(1.2,1)" x="-1.01" y="0" font-size="20.3">=</text>
<text transform="translate(162.14,70.04) scale(1,1)" x="-1.84" y="0" font-size="20.9">1,</text>
<text transform="translate(183.15,70.04) scale(1.24,1)" x="-0.82" y="0" font-size="21.518">&#945;</text>
<text transform="translate(201.25,71.24) scale(1.2,1)" x="-1.01" y="0" font-size="20.3">=</text>
<text transform="translate(219.59,70.04) scale(1,1)" x="-1.84" y="0" font-size="20.9">1/8</text>
<line x1="82.7" y1="87.26" x2="113.6" y2="87.26" stroke="#00f" stroke-width="2" />
<text transform="translate(125.70,93.31) scale(1.03,1)" x="-0.80" y="0" font-size="21.112">&#916;</text>
<text transform="translate(143.70,94.51) scale(1.2,1)" x="-1.01" y="0" font-size="20.3">=</text>
<text transform="translate(161.10,93.31) scale(1,1)" x="-0.80" y="0" font-size="20.9">0.9,</text>
<text transform="translate(198.83,93.31) scale(1.24,1)" x="-0.82" y="0" font-size="21.518">&#945;</text>
<text transform="translate(216.93,94.51) scale(1.2,1)" x="-1.01" y="0" font-size="20.3">=</text>
<text transform="translate(235.26,93.31) scale(1,1)" x="-1.84" y="0" font-size="20.9">1/8</text>
<line x1="82.7" y1="110.53" x2="113.6" y2="110.53" stroke="#000" stroke-width="2" />
<text transform="translate(125.70,116.58) scale(1.03,1)" x="-0.80" y="0" font-size="21.112">&#916;</text>
<text transform="translate(143.70,117.78) scale(1.2,1)" x="-1.01" y="0" font-size="20.3">=</text>
<text transform="translate(161.10,116.58) scale(1,1)" x="-0.80" y="0" font-size="20.9">0.58,</text>
<text transform="translate(209.28,116.58) scale(1.24,1)" x="-0.82" y="0" font-size="21.518">&#945;</text>
<text transform="translate(227.38,117.78) scale(1.2,1)" x="-1.01" y="0" font-size="20.3">=</text>
<text transform="translate(244.67,116.58) scale(1,1)" x="-0.80" y="0" font-size="20.9">0.22</text>
<g fill="none" stroke-width="2">
<line x1="492.6" y1="93.30" x2="627.2" y2="93.30" stroke="#000"/>
<polyline points="575.80,12.60 622.2,93.30 599,133" stroke="#00f"/>
<line x1="500.0" y1="12.60" x2="528.25" y2="12.60" stroke="#00f"/>
</g>
<g fill="#000"><circle cx="528.25" cy="12.60" r="2.6"/><circle cx="528.25" cy="93.30" r="2.6"/></g>
<g fill="none" stroke="#ffa500" stroke-width="2.2" stroke-linejoin="bevel">
<path d="M527.95 93.30 L527.95 12.20 M532.65 22.70 L527.95 12.20 L523.25 22.70"/>
<path d="M528.25 12.60 L575.50 12.60 M565.20 17.30 L575.50 12.60 L565.20 7.90"/>
<path d="M575.80 12.60 L527.95 93.70 M531.71 80.24 L527.95 93.70 L537.91 83.90"/>
</g>
<circle cx="575.80" cy="12.60" r="2.5" fill="#000"/>
<path d="M525.75 12.60 a2.5 2.5 0 0 1 5 0 z" fill="#000"/>
<text transform="translate(495.80,37.40) scale(0.98,1)" x="-2.18" y="0" font-size="26.6" class="sans" fill="#00f">M</text>
<polygon points="521.30,16.80 523.20,16.80 519.30,23.00 518.30,22.80" fill="#00f"/>
<text transform="translate(589.10,25.80) scale(0.95,1)" x="-2.21" y="0" font-size="27" class="sans" fill="#00f">K</text>
<polygon points="610.20,5.20 612.10,5.20 608.20,11.40 607.20,11.20" fill="#00f"/>
<text transform="translate(505.60,117.70) scale(1.08,1)" x="-0.75" y="0" font-size="26.2" fill="#00f">&#915;</text>
</svg></body></html>
